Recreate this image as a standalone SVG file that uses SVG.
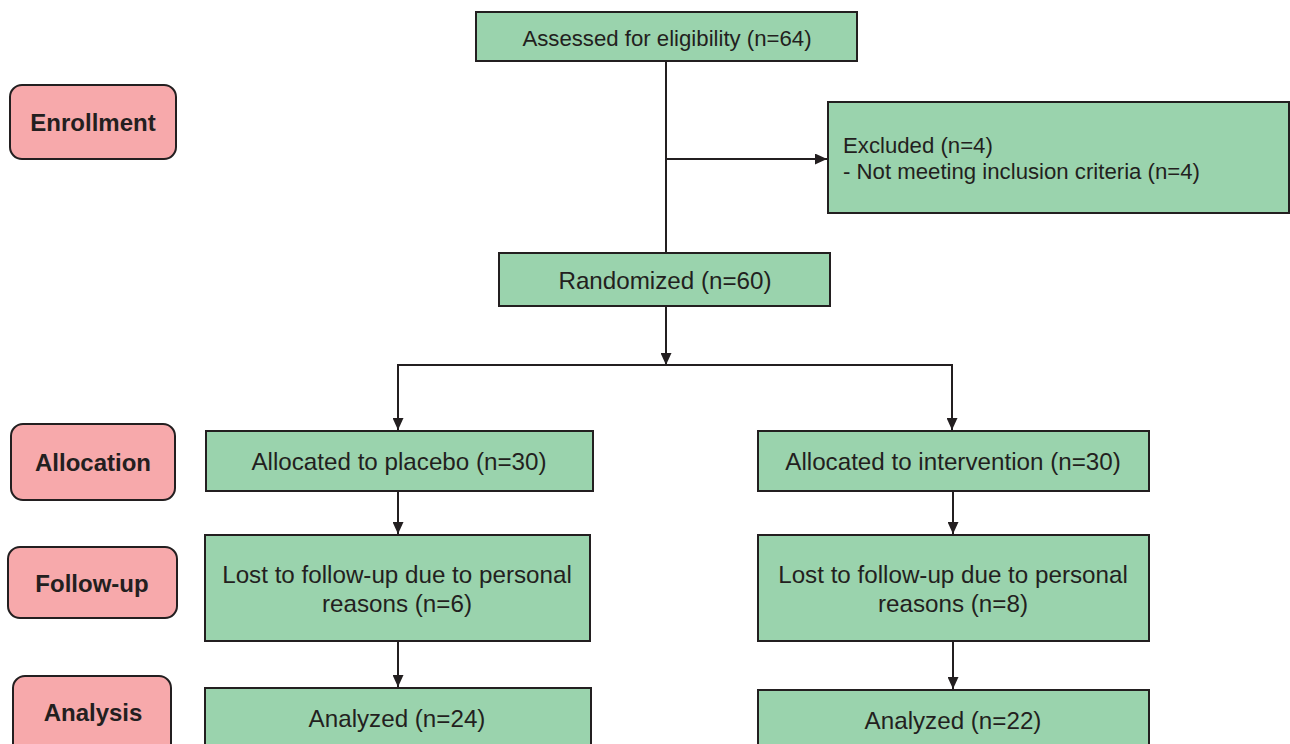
<svg xmlns="http://www.w3.org/2000/svg" width="1290" height="744" viewBox="0 0 1290 744">
<style>
.box{fill:#9ad3ad;stroke:#231f20;stroke-width:2}
.stage{fill:#f7a9ab;stroke:#231f20;stroke-width:2}
.t{font-family:"Liberation Sans",Arial,sans-serif;fill:#231f20;text-anchor:middle}
.m{font-size:24.2px}
.s{font-size:22.2px}
.b{font-family:"Liberation Sans",Arial,sans-serif;font-weight:bold;font-size:24px;fill:#231f20;text-anchor:middle}
.c{fill:none;stroke:#231f20;stroke-width:2}
</style>
<defs>
<marker id="ah" markerWidth="12" markerHeight="11" refX="12" refY="5.5" orient="auto" markerUnits="userSpaceOnUse">
<path d="M0,0 L12,5.5 L0,11 Z" fill="#231f20"/>
</marker>
</defs>
<rect width="1290" height="744" fill="#ffffff"/>
<g id="connectors">
<line class="c" x1="666" y1="61" x2="666" y2="253"/>
<line class="c" x1="666" y1="159" x2="827" y2="159" marker-end="url(#ah)"/>
<line class="c" x1="666" y1="306" x2="666" y2="365" marker-end="url(#ah)"/>
<polyline class="c" points="398,430 398,365 952,365 952,430" marker-end="url(#ah)"/>
<line class="c" x1="398" y1="366" x2="398" y2="430" marker-end="url(#ah)"/>
<line class="c" x1="398" y1="491" x2="398" y2="534" marker-end="url(#ah)"/>
<line class="c" x1="398" y1="641" x2="398" y2="687" marker-end="url(#ah)"/>
<line class="c" x1="953" y1="491" x2="953" y2="534" marker-end="url(#ah)"/>
<line class="c" x1="953" y1="641" x2="953" y2="689" marker-end="url(#ah)"/>
</g>
<g id="enrollment"><rect class="stage" x="10" y="85" width="166" height="74" rx="12"/><text class="b" x="93" y="131">Enrollment</text></g>
<g id="allocation"><rect class="stage" x="11" y="424" width="164" height="76" rx="12"/><text class="b" x="93" y="471">Allocation</text></g>
<g id="followup"><rect class="stage" x="8" y="547" width="169" height="71" rx="12"/><text class="b" x="92" y="592">Follow-up</text></g>
<g id="analysis"><rect class="stage" x="13" y="676" width="158" height="80" rx="12"/><text class="b" x="93" y="721">Analysis</text></g>
<g id="assessed"><rect class="box" x="476" y="12" width="381" height="49"/><text class="t s" x="667" y="46">Assessed for eligibility (n=64)</text></g>
<g id="excluded"><rect class="box" x="828" y="102" width="461" height="111"/><text class="t s" x="843" y="153" style="text-anchor:start">Excluded (n=4)</text><text class="t s" x="843" y="179" style="text-anchor:start">- Not meeting inclusion criteria (n=4)</text></g>
<g id="randomized"><rect class="box" x="499" y="253" width="331" height="53"/><text class="t m" x="665" y="289">Randomized (n=60)</text></g>
<g id="alloc-placebo"><rect class="box" x="206" y="431" width="387" height="60"/><text class="t m" x="399" y="470">Allocated to placebo (n=30)</text></g>
<g id="alloc-intervention"><rect class="box" x="758" y="431" width="391" height="60"/><text class="t m" x="953" y="470">Allocated to intervention (n=30)</text></g>
<g id="lost-placebo"><rect class="box" x="205" y="535" width="385" height="106"/><text class="t m" x="397" y="583">Lost to follow-up due to personal</text><text class="t m" x="397" y="612">reasons (n=6)</text></g>
<g id="lost-intervention"><rect class="box" x="758" y="535" width="391" height="106"/><text class="t m" x="953" y="583">Lost to follow-up due to personal</text><text class="t m" x="953" y="612">reasons (n=8)</text></g>
<g id="analyzed-placebo"><rect class="box" x="205" y="688" width="386" height="70"/><text class="t m" x="397" y="727">Analyzed (n=24)</text></g>
<g id="analyzed-intervention"><rect class="box" x="758" y="690" width="391" height="70"/><text class="t m" x="953" y="729">Analyzed (n=22)</text></g>
</svg>
